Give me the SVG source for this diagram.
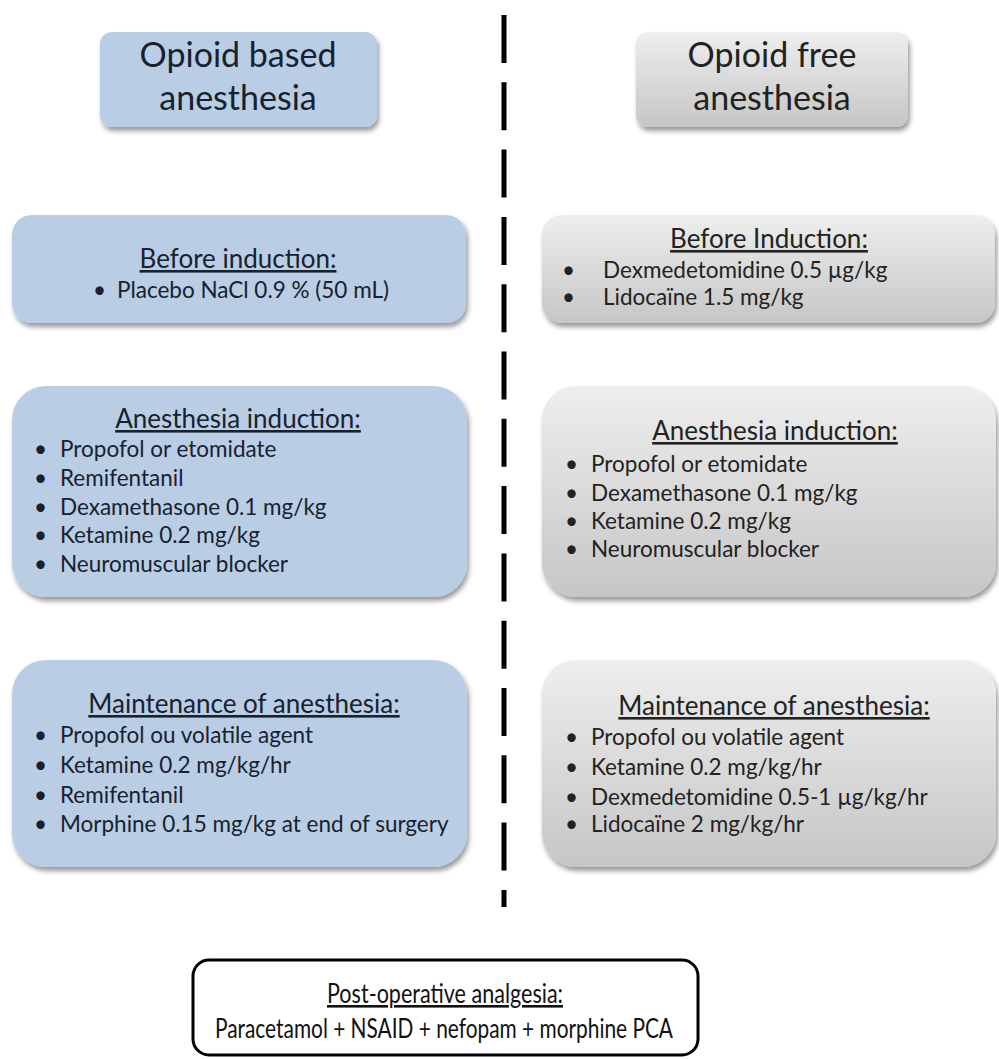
<svg xmlns="http://www.w3.org/2000/svg" width="999" height="1059" viewBox="0 0 999 1059">
<defs>
<linearGradient id="grey" x1="0" y1="0" x2="0" y2="1">
<stop offset="0" stop-color="#EEEEEE"/>
<stop offset="1" stop-color="#C6C6C6"/>
</linearGradient>
<filter id="sh" x="-10%" y="-10%" width="120%" height="130%">
<feDropShadow dx="2" dy="4" stdDeviation="2.5" flood-color="#000" flood-opacity="0.4"/>
</filter>
</defs>
<style>
.blue{fill:#B9CDE5;filter:url(#sh)}
.grey{fill:url(#grey);filter:url(#sh)}
text{font-family:Lato,"Liberation Sans",sans-serif}
.hd{font-size:34px;text-anchor:middle}
.tt{font-size:26px;text-anchor:middle;text-decoration:underline}
.it{font-size:22.5px}
.bt{fill:#18212E}
.gt{fill:#222222}
</style>
<rect width="999" height="1059" fill="#FFFFFF"/>
<g id="connectors">
<line x1="504" y1="15" x2="504" y2="907" stroke="#000" stroke-width="5" stroke-dasharray="48 19.3"/>
</g>
<g id="header-left">
<rect class="blue" x="100" y="32" width="277" height="95" rx="12"/>
<text class="hd bt" x="238" y="67">Opioid based</text>
<text class="hd bt" x="238" y="110">anesthesia</text>
</g>
<g id="header-right">
<rect class="grey" x="636" y="32" width="272" height="95" rx="12"/>
<text class="hd gt" x="772" y="67">Opioid free</text>
<text class="hd gt" x="772" y="110">anesthesia</text>
</g>
<g id="before-left">
<rect class="blue" x="12" y="215" width="454" height="108" rx="20"/>
<text class="tt bt" x="238" y="268">Before induction:</text>
<text class="it bt" x="93" y="298">•</text>
<text class="it bt" x="117" y="298">Placebo NaCl 0.9 % (50 mL)</text>
</g>
<g id="before-right">
<rect class="grey" x="542" y="215" width="453" height="108" rx="20"/>
<text class="tt gt" x="769" y="248">Before Induction:</text>
<text class="it gt" x="562" y="278">•</text>
<text class="it gt" x="603" y="278">Dexmedetomidine  0.5 µg/kg</text>
<text class="it gt" x="562" y="305">•</text>
<text class="it gt" x="603" y="305">Lidocaïne 1.5 mg/kg</text>
</g>
<g id="induction-left">
<rect class="blue" x="12" y="386" width="455" height="211" rx="34"/>
<text class="tt bt" x="238" y="428">Anesthesia induction:</text>
<g class="it bt">
<text x="34" y="457">•</text><text x="60" y="457">Propofol or etomidate</text>
<text x="34" y="486">•</text><text x="60" y="486">Remifentanil</text>
<text x="34" y="514.5">•</text><text x="60" y="514.5">Dexamethasone 0.1 mg/kg</text>
<text x="34" y="543">•</text><text x="60" y="543">Ketamine 0.2 mg/kg</text>
<text x="34" y="572">•</text><text x="60" y="572">Neuromuscular blocker</text>
</g>
</g>
<g id="induction-right">
<rect class="grey" x="542" y="386" width="454" height="211" rx="34"/>
<text class="tt gt" x="775" y="440">Anesthesia induction:</text>
<g class="it gt">
<text x="565" y="472">•</text><text x="591" y="472">Propofol or etomidate</text>
<text x="565" y="501">•</text><text x="591" y="501">Dexamethasone 0.1 mg/kg</text>
<text x="565" y="529">•</text><text x="591" y="529">Ketamine 0.2 mg/kg</text>
<text x="565" y="557">•</text><text x="591" y="557">Neuromuscular blocker</text>
</g>
</g>
<g id="maintenance-left">
<rect class="blue" x="12" y="660" width="455" height="207" rx="34"/>
<text class="tt bt" x="244" y="713">Maintenance of anesthesia:</text>
<g class="it bt">
<text x="34" y="743">•</text><text x="60" y="743">Propofol ou volatile agent</text>
<text x="34" y="773">•</text><text x="60" y="773">Ketamine 0.2 mg/kg/hr</text>
<text x="34" y="803">•</text><text x="60" y="803">Remifentanil</text>
<text x="34" y="832">•</text><text x="60" y="832">Morphine 0.15 mg/kg at end of surgery</text>
</g>
</g>
<g id="maintenance-right">
<rect class="grey" x="542" y="660" width="454" height="207" rx="34"/>
<text class="tt gt" x="774" y="715">Maintenance of anesthesia:</text>
<g class="it gt">
<text x="565" y="745">•</text><text x="591" y="745">Propofol ou volatile agent</text>
<text x="565" y="775">•</text><text x="591" y="775">Ketamine 0.2 mg/kg/hr</text>
<text x="565" y="805">•</text><text x="591" y="805">Dexmedetomidine  0.5-1 µg/kg/hr</text>
<text x="565" y="832">•</text><text x="591" y="832">Lidocaïne 2 mg/kg/hr</text>
</g>
</g>
<g id="post-op">
<rect x="193" y="960" width="505" height="95" rx="16" fill="#FFFFFF" stroke="#000" stroke-width="3"/>
<text x="327" y="1003" font-size="26" textLength="236" lengthAdjust="spacingAndGlyphs" text-decoration="underline" fill="#111">Post-operative analgesia:</text>
<text x="215" y="1038" font-size="26" textLength="458" lengthAdjust="spacingAndGlyphs" fill="#111">Paracetamol + NSAID + nefopam + morphine PCA</text>
</g>
</svg>
